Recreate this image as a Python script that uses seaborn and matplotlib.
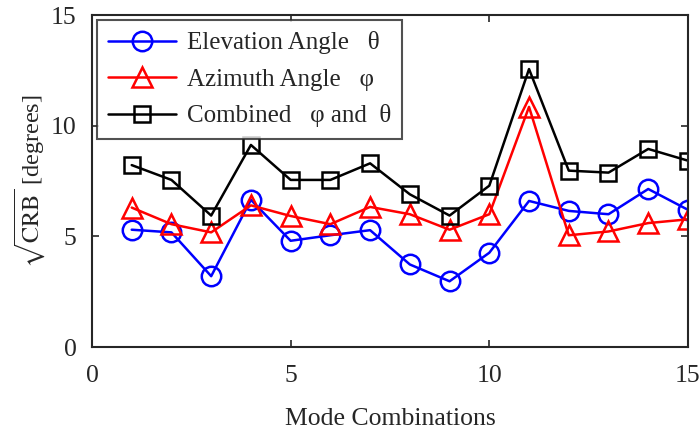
import matplotlib
matplotlib.use("Agg")
import matplotlib.pyplot as plt
import seaborn as sns
import pandas as pd

modes = list(range(1, 16))
elevation = [5.30, 5.18, 3.20, 6.65, 4.80, 5.05, 5.28, 3.73, 2.97, 4.26, 6.60, 6.15, 6.00, 7.14, 6.20]
azimuth = [6.30, 5.55, 5.18, 6.40, 5.92, 5.55, 6.33, 6.00, 5.30, 6.00, 10.85, 5.05, 5.22, 5.60, 5.77]
combined = [8.22, 7.55, 5.94, 9.13, 7.55, 7.55, 8.30, 6.90, 5.94, 7.29, 12.56, 7.97, 7.88, 8.95, 8.42]

labels = ["Elevation Angle   θ", "Azimuth Angle   φ", "Combined   φ and  θ"]
colors = ["#0000ff", "#ff0000", "#000000"]
markers = ["o", "^", "s"]

sns.set_style("ticks")
plt.rcParams["font.family"] = ["Liberation Serif", "DejaVu Sans"]
plt.rcParams["mathtext.fontset"] = "stix"

fs = 18.5
fig = plt.figure(figsize=(6.99, 4.30), dpi=100)
ax = fig.add_axes([0.1316, 0.193, 0.8526, 0.772])

for vals, lab, c, m in zip([elevation, azimuth, combined], labels, colors, markers):
    df = pd.DataFrame({"mode": modes, "val": vals})
    sns.lineplot(data=df, x="mode", y="val", ax=ax, color=c, marker=m,
                 markersize=14 if m != "s" else 11.5, markerfacecolor="none",
                 markeredgecolor=c, markeredgewidth=1.8, linewidth=1.8, label=lab)

ax.set_xlim(0, 15)
ax.set_ylim(0, 15)
ax.set_xticks([0, 5, 10, 15])
ax.set_yticks([0, 5, 10, 15])
ax.tick_params(direction="in", length=5, width=1.2, labelsize=fs, top=True, right=True,
               colors="#262626", labelcolor="#262626")
ax.tick_params(axis="x", pad=13)
ax.tick_params(axis="y", pad=11)
for s in ax.spines.values():
    s.set_linewidth(1.5)
    s.set_color("#262626")
ax.set_xlabel("Mode Combinations", fontsize=fs, color="#262626", labelpad=15)
ax.set_ylabel(r"$\sqrt{\mathrm{CRB}}$ [degrees]", fontsize=17.5, color="#262626", labelpad=3)

leg = ax.legend(loc="upper left", fontsize=18, frameon=True, fancybox=False,
                edgecolor="#262626", handlelength=2.7, borderaxespad=0.2,
                labelspacing=0.55, borderpad=0.45, handletextpad=0.45)
leg.get_frame().set_linewidth(1.5)

fig.savefig("out.png", dpi=100)
